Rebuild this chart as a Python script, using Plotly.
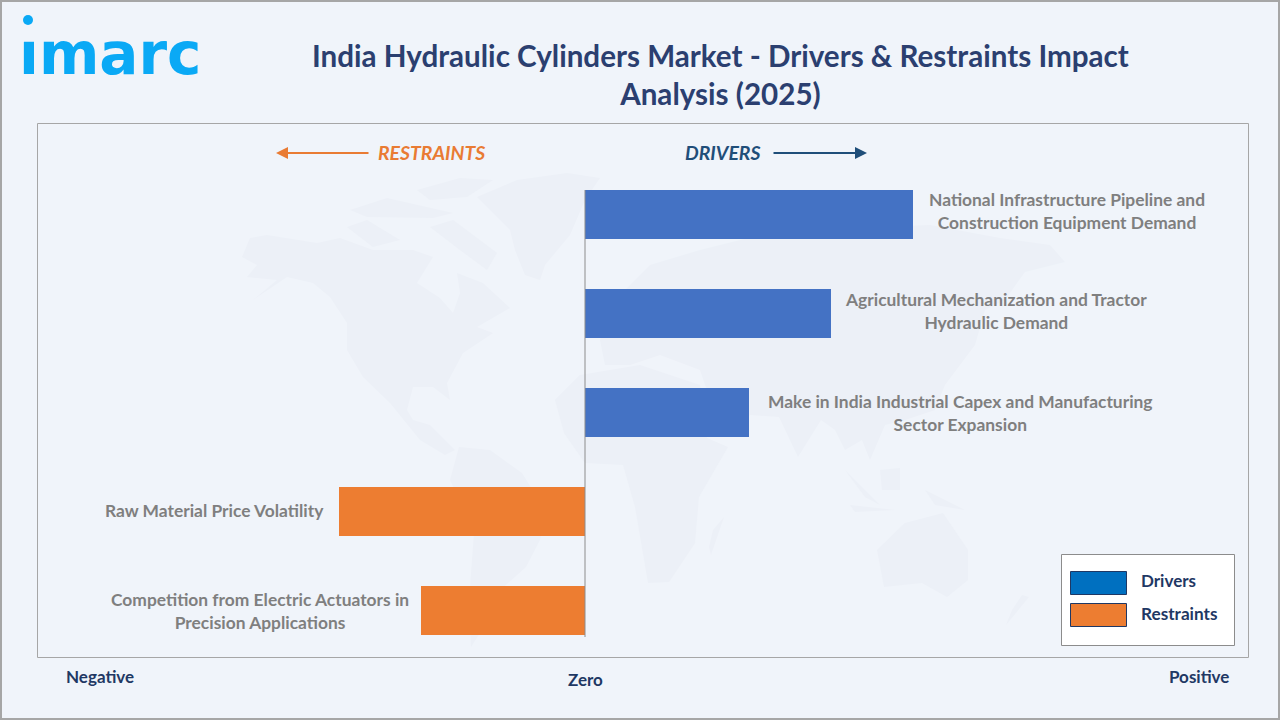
import plotly.graph_objects as go

TITLE = "India Hydraulic Cylinders Market - Drivers &amp; Restraints Impact<br>Analysis (2025)"
DRIVER_LABELS = [
    "National Infrastructure Pipeline and<br>Construction Equipment Demand",
    "Agricultural Mechanization and Tractor<br>Hydraulic Demand",
    "Make in India Industrial Capex and Manufacturing<br>Sector Expansion",
]
DRIVER_VALUES = [4, 3, 2]
RESTRAINT_LABELS = [
    "Raw Material Price Volatility",
    "Competition from Electric Actuators in<br>Precision Applications",
]
RESTRAINT_VALUES = [-3, -2]
CATEGORIES = DRIVER_LABELS + RESTRAINT_LABELS

W, H = 1280, 720
NAVY = "#1f3864"
TITLE_C = "#2b3f70"
BG = "#f0f4fa"
LAND = "#ecf0f7"
FONT = "Lato"

def px(x): return x / W
def py(y): return 1 - y / H

# Faint decorative world map, in page pixels
MAP = [
    [(242,257),(250,238),(267,235),(317,243),(340,238),(373,250),(413,250),(433,257),(417,283),(440,298),(453,313),
     (460,293),(457,273),(483,283),(510,308),(477,327),(493,333),(463,353),(447,383),(450,400),(433,387),(413,387),
     (407,410),(413,420),(430,425),(455,450),(445,455),(420,440),(390,403),(363,377),(347,350),(347,323),(330,297),
     (313,283),(287,277),(253,300),(277,280),(247,277),(257,265)],
    [(347,227),(367,220),(400,240),(373,247)],
    [(350,210),(387,198),(453,213),(433,218),(367,217)],
    [(417,190),(460,178),(493,180),(467,197),(430,200)],
    [(430,227),(453,220),(497,253),(487,270),(460,250)],
    [(477,197),(517,180),(567,173),(600,178),(585,200),(570,235),(545,265),(540,280),(525,275),(515,250),(510,230),(490,210)],
    [(459,447),(490,450),(522,473),(545,510),(540,540),(526,567),(497,593),(480,633),(471,647),(469,600),(474,533),(450,480)],
    [(564,433),(555,400),(580,375),(640,365),(700,385),(707,438),(728,447),(699,497),(695,543),(669,582),(648,583),
     (635,507),(623,465),(585,463)],
    [(724,517),(711,555),(709,547),(713,530)],
    [(877,550),(905,523),(943,513),(968,550),(968,580),(947,597),(922,583),(884,587)],
    [(1029,597),(1006,625),(1012,610),(1022,595)],
    [(600,340),(610,310),(625,290),(650,265),(700,250),(760,235),(850,228),(930,225),(1000,238),(1050,245),(1065,262),
     (1025,272),(1005,300),(985,310),(975,345),(945,385),(935,410),(905,420),(885,425),(870,460),(862,440),(845,450),
     (835,430),(821,420),(798,457),(779,417),(750,415),(730,435),(705,385),(700,370),(660,355),(630,365),(605,365)],
    [(845,470),(880,505),(865,497)],
    [(880,470),(900,468),(900,490),(882,490)],
    [(925,490),(965,510),(935,505)],
    [(850,505),(895,510),(855,512)],
]

shapes = [dict(type="rect", xref="paper", yref="paper", x0=px(1), x1=px(1279), y0=py(1), y1=py(719),
               line=dict(color="#a6a6a6", width=2), fillcolor=BG, layer="below")]
for poly in MAP:
    path = "M " + " L ".join(f"{px(a):.5f},{py(b):.5f}" for a, b in poly) + " Z"
    shapes.append(dict(type="path", xref="paper", yref="paper", path=path, fillcolor=LAND,
                       line=dict(width=0), layer="below"))
shapes += [
    dict(type="rect", xref="paper", yref="paper", x0=px(37.5), x1=px(1248.5), y0=py(123.5), y1=py(657.5),
         line=dict(color="#a6a6a6", width=1), layer="below"),
    dict(type="line", xref="x", yref="paper", x0=0, x1=0, y0=py(190), y1=py(637),
         line=dict(color="#8c8c8c", width=1), layer="above"),
    dict(type="rect", xref="paper", yref="paper", x0=px(1061.5), x1=px(1234.5), y0=py(554.5), y1=py(645.5),
         line=dict(color="#8c8c8c", width=1), fillcolor="white", layer="above"),
    dict(type="rect", xref="paper", yref="paper", x0=px(1070.5), x1=px(1126.5), y0=py(571.5), y1=py(594.5),
         line=dict(color=NAVY, width=1), fillcolor="#0070c0", layer="above"),
    dict(type="rect", xref="paper", yref="paper", x0=px(1070.5), x1=px(1126.5), y0=py(603.5), y1=py(626.5),
         line=dict(color=NAVY, width=1), fillcolor="#ed7d31", layer="above"),
    dict(type="circle", xref="paper", yref="paper", x0=px(23), x1=px(33), y0=py(15), y1=py(25),
         line=dict(width=0), fillcolor="#0aa9f5", layer="above"),
]

fig = go.Figure()
fig.add_bar(name="Drivers", y=DRIVER_LABELS, x=DRIVER_VALUES, orientation="h", width=0.495,
            marker=dict(color="#4472c4", line=dict(width=0)))
fig.add_bar(name="Restraints", y=RESTRAINT_LABELS, x=RESTRAINT_VALUES, orientation="h", width=0.495,
            marker=dict(color="#ed7d31", line=dict(width=0)))

def text(s, x, y, size, color, bold=True, italic=False, anchor="center", family=FONT):
    t = f"<b>{s}</b>" if bold else s
    if italic:
        t = f"<i>{t}</i>"
    return dict(text=t, xref="paper", yref="paper", x=px(x), y=py(y), xanchor=anchor, yanchor="middle",
                showarrow=False, align="center", font=dict(size=size, color=color, family=family))

LABEL_CENTERS = [(1067, 211), (996, 311), (960, 413), (214, 510), (260, 611)]
ann = [text(c, x, y, 17.4, "#7f7f7f") for c, (x, y) in zip(CATEGORIES, LABEL_CENTERS)]
ann += [
    text(TITLE, 720, 74.5, 29.6, TITLE_C),
    text("ımarc", 109.5, 54, 58, "#0aa9f5", family="DejaVu Sans"),
    text("RESTRAINTS", 431, 152.5, 19.4, "#e97b33", italic=True),
    text("DRIVERS", 722, 152.5, 19.4, "#1f4e79", italic=True),
    text("Negative", 100, 676, 17, NAVY),
    text("Zero", 585, 679, 17, NAVY),
    text("Positive", 1199, 676, 17, NAVY),
    text("Drivers", 1139, 580, 17, NAVY, anchor="left"),
    text("Restraints", 1139, 613, 17.2, NAVY, anchor="left"),
    dict(text="", xref="paper", yref="paper", x=px(276), y=py(153), ax=94, ay=0, showarrow=True,
         arrowhead=2, arrowsize=1.2, arrowwidth=2, arrowcolor="#e97b33"),
    dict(text="", xref="paper", yref="paper", x=px(867), y=py(153), ax=-95, ay=0, showarrow=True,
         arrowhead=2, arrowsize=1.2, arrowwidth=2, arrowcolor="#1f4e79"),
]

fig.update_layout(
    width=W, height=H, autosize=False, margin=dict(l=0, r=0, t=0, b=0),
    paper_bgcolor=BG, plot_bgcolor="rgba(0,0,0,0)", showlegend=False, barmode="overlay",
    shapes=shapes, annotations=ann, font=dict(family=FONT),
    xaxis=dict(range=[-585 / 82, (W - 585) / 82], visible=False, fixedrange=True),
    yaxis=dict(range=[(H - 214.5) / 99, -214.5 / 99], visible=False, type="category",
               categoryorder="array", categoryarray=CATEGORIES, fixedrange=True),
)

fig.write_html("out.html", config={"displayModeBar": False},
               post_script="document.body.style.margin='0';document.body.style.overflow='hidden';")
